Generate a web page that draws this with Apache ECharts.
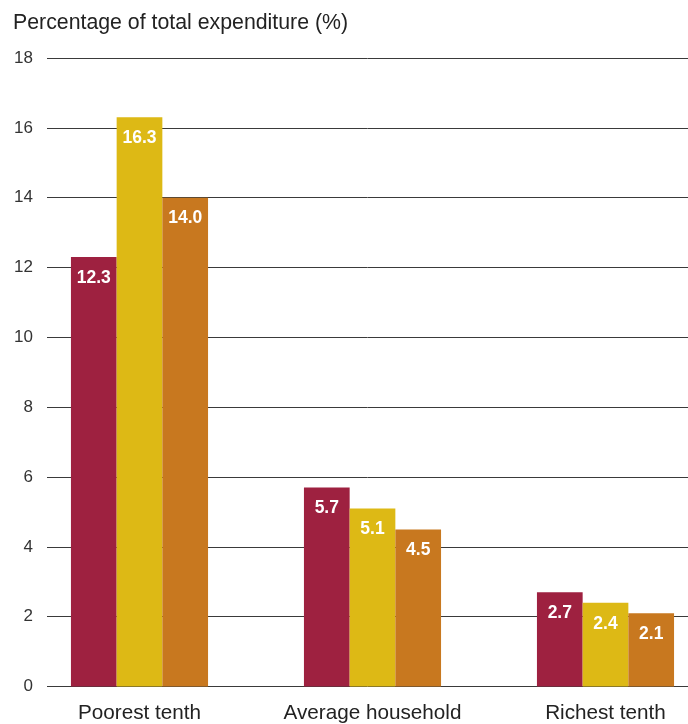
<!DOCTYPE html>
<html>
<head>
<meta charset="utf-8">
<script src="https://cdn.jsdelivr.net/npm/echarts@6/dist/echarts.min.js"></script>
<style>
  html, body { margin: 0; padding: 0; background: #fff; }
  #chart { width: 688px; height: 724px; }
</style>
</head>
<body>
<div id="chart"></div>
<script>
// Expenditure share by household income group
const categories = ['Poorest tenth', 'Average household', 'Richest tenth'];
const seriesA = [12.3, 5.7, 2.7];
const seriesB = [16.3, 5.1, 2.4];
const seriesC = [14.0, 4.5, 2.1];
const yTicks = { min: 0, max: 18, interval: 2 };

const FONT = '"Liberation Sans", Arial, sans-serif';
const colors = ['#9e2140', '#ddb915', '#c8781f'];

function barSeries(name, data, color) {
  return {
    name: name,
    type: 'bar',
    xAxisIndex: 1,
    yAxisIndex: 1,
    data: data,
    barWidth: 45.7,
    barGap: '0%',
    itemStyle: { color: color },
    label: {
      show: true,
      position: 'insideTop',
      distance: 12,
      color: '#fff',
      fontFamily: FONT,
      fontSize: 17.5,
      fontWeight: 'bold',
      formatter: p => p.value.toFixed(1)
    }
  };
}

const chart = echarts.init(document.getElementById('chart'));
chart.setOption({
  animation: false,
  title: {
    text: 'Percentage of total expenditure (%)',
    left: 8,
    top: 8,
    textStyle: { fontFamily: FONT, fontSize: 21.3, fontWeight: 'normal', color: '#222' }
  },
  grid: [
    // gridlines and value labels
    { left: 47, right: 0, top: 58, bottom: 37.5, outerBoundsMode: 'none' },
    // bars and category labels (band runs past the right edge)
    { left: 23, width: 699, top: 58, bottom: 37.5, outerBoundsMode: 'none' }
  ],
  xAxis: [
    { gridIndex: 0, type: 'value', show: false, min: 0, max: 1 },
    {
      gridIndex: 1,
      type: 'category',
      data: categories,
      axisLine: { show: false },
      axisTick: { show: false },
      axisLabel: {
        interval: 0,
        margin: 16,
        fontFamily: FONT,
        fontSize: 20.7,
        color: '#222'
      }
    }
  ],
  yAxis: [
    {
      gridIndex: 0,
      type: 'value',
      min: yTicks.min,
      max: yTicks.max,
      interval: yTicks.interval,
      axisLine: { show: false },
      axisTick: { show: false },
      splitLine: { show: true, lineStyle: { color: '#3a3a3a', width: 1 } },
      axisLabel: {
        margin: 14,
        fontFamily: FONT,
        fontSize: 17,
        color: '#333'
      }
    },
    {
      gridIndex: 1,
      type: 'value',
      min: yTicks.min,
      max: yTicks.max,
      interval: yTicks.interval,
      show: false,
      splitLine: { show: false }
    }
  ],
  series: [
    barSeries('Group A', seriesA, colors[0]),
    barSeries('Group B', seriesB, colors[1]),
    barSeries('Group C', seriesC, colors[2])
  ]
});
</script>
</body>
</html>
